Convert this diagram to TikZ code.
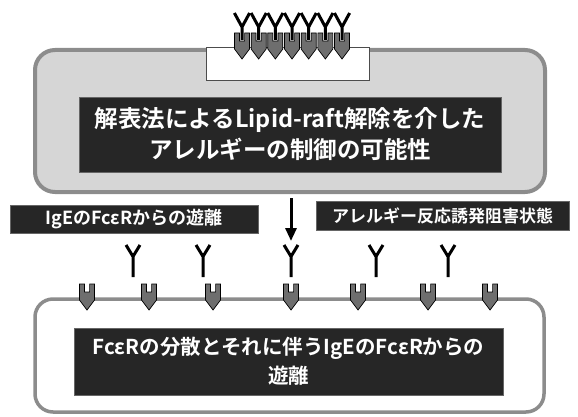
\documentclass[tikz,border=0pt]{standalone}
\usepackage{fontspec}
\newfontfamily\jp{Noto Sans CJK JP}[BoldFont={Noto Sans CJK JP Bold}]
\usetikzlibrary{arrows.meta}

\definecolor{panelfill}{HTML}{D6D6D6}
\definecolor{panelrim}{HTML}{8C8C8C}
\definecolor{labelfill}{HTML}{262626}
\definecolor{recfill}{HTML}{6E6E6E}

\tikzset{
  panel/.style={draw=panelrim, line width=4pt, rounded corners=20pt},
  raft/.style={draw=black!70, line width=0.8pt, fill=white},
  darkbox/.style={draw=black!60, line width=0.8pt, fill=labelfill, text=white,
    align=center, inner sep=0pt},
  arrowline/.style={line width=3pt, -{Triangle[width=11pt,length=13pt]}},
  receptor/.style={draw=black, line width=0.7pt, fill=recfill, line join=miter},
  antibody/.style={draw=black, line width=3pt, line join=miter, line cap=butt},
  fcr/.pic={\path[receptor] (-7.5,0) -- (-2.6,0) -- (-2.6,8) -- (2.6,8) -- (2.6,0)
      -- (7.5,0) -- (7.5,16) -- (0,26) -- (-7.5,16) -- cycle;},
  ige/.pic={\path[antibody] (-7,0) -- (0,11.5) -- (7,0) (0,11.5) -- (0,32);},
  igebound/.pic={\path[antibody] (-7.6,0) -- (0,14) -- (7.6,0) (0,14) -- (0,27);}
}

\begin{document}
\begin{tikzpicture}[x=1pt, y=-1pt]
\useasboundingbox (0,0) rectangle (578,417);

% upper panel with the raft patch on its top edge
\node[panel, fill=panelfill, minimum width=510pt, minimum height=142pt] (upper) at (290,121) {};
\node[raft, minimum width=163pt, minimum height=33pt] (raftpatch) at (287.5,63.5) {};

% clustered receptors with bound IgE on the raft
\foreach \i in {0,...,6} {
  \pic at ({242+16.67*\i},13) {igebound};
  \pic at ({242+16.67*\i},33) {fcr};
}

\node[darkbox, minimum width=422pt, minimum height=75pt,
  font={\jp\bfseries\fontsize{23.5}{31}\selectfont}] (title) at (290,134.5)
  {解表法によるLipid-raft解除を介した\\アレルギーの制御の可能性};

% arrow down from the upper panel
\coordinate (tip) at (291,241);
\draw[arrowline] (upper.south -| tip) ++(0,4) -- (tip);

% side labels
\node[darkbox, minimum width=248pt, minimum height=28pt,
  font={\jp\bfseries\fontsize{18}{20}\selectfont}] (leftlabel) at (134,219)
  {IgEのFcεRからの遊離};
\node[darkbox, minimum width=253pt, minimum height=29pt,
  font={\jp\bfseries\fontsize{17}{20}\selectfont}] (rightlabel) at (442.5,215.5)
  {アレルギー反応誘発阻害状態};

% lower panel
\node[panel, fill=white, minimum width=509pt, minimum height=113pt, line width=3.5pt,
  rounded corners=18pt] (lower) at (289.5,355.5) {};

% released IgE
\foreach \x in {133,203,291,376,448}
  \pic at (\x,245) {ige};

% dispersed receptors on the lower membrane
\foreach \x in {87,149,213,291,358,428,490}
  \pic at (\x,284) {fcr};

\node[darkbox, minimum width=429pt, minimum height=67pt,
  font={\jp\bfseries\fontsize{20.5}{29}\selectfont}] (result) at (288.5,361.5)
  {FcεRの分散とそれに伴うIgEのFcεRからの\\遊離};
\end{tikzpicture}
\end{document}
